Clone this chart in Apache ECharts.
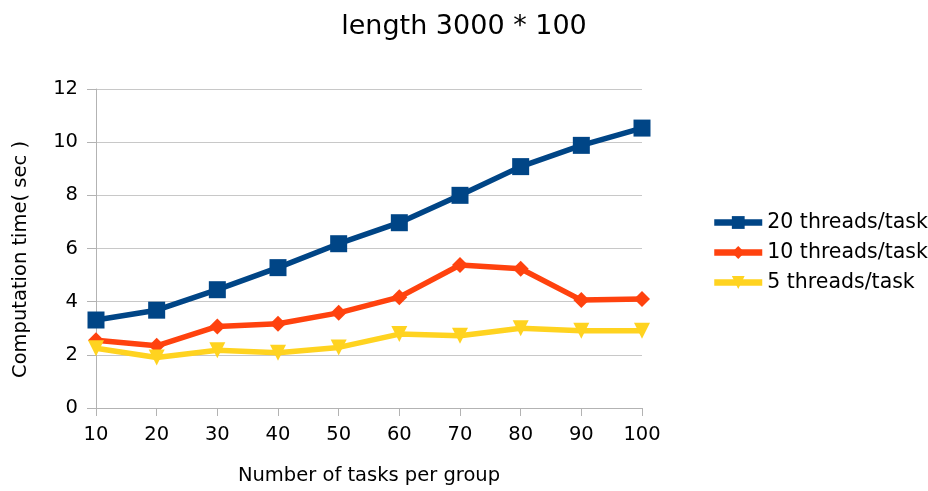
<!DOCTYPE html>
<html><head><meta charset="utf-8">
<script src="https://cdn.jsdelivr.net/npm/echarts@6/dist/echarts.min.js"></script>
<style>html,body{margin:0;padding:0;background:#fff;overflow:hidden}#c{width:928px;height:491px}</style>
</head><body><div id="c"></div>
<script>
var categories = ['10','20','30','40','50','60','70','80','90','100'];
var threads20 = [3.31, 3.68, 4.45, 5.28, 6.18, 6.97, 8.0, 9.08, 9.88, 10.53];
var threads10 = [2.55, 2.34, 3.07, 3.17, 3.58, 4.17, 5.38, 5.24, 4.06, 4.1];
var threads5 = [2.25, 1.9, 2.17, 2.08, 2.28, 2.78, 2.72, 3.0, 2.91, 2.91];
var seriesNames = ['20 threads/task', '10 threads/task', '5 threads/task'];
var colors = ['#004586', '#ff420e', '#ffd320'];
var font = 'DejaVu Sans';
var chart = echarts.init(document.getElementById('c'), null, {renderer: 'canvas', width: 928, height: 491});
function mk(name, data, color, symbol, size, rot) {
  return {name: name, type: 'line', data: data, symbol: symbol, symbolSize: size,
    symbolRotate: rot || 0, showAllSymbol: true, animation: false,
    lineStyle: {color: color, width: 5.5}, itemStyle: {color: color}};
}
chart.setOption({
  animation: false,
  title: {text: 'length 3000 * 100', left: 'center', top: 8,
    textStyle: {fontFamily: font, fontSize: 27, fontWeight: 'normal', color: '#000'}},
  grid: {left: 96, right: 286, top: 89, bottom: 78},
  legend: {orient: 'vertical', left: 706, top: 207, itemWidth: 48, itemHeight: 16, itemGap: 9,
    lineStyle: {width: 6.5},
    textStyle: {fontFamily: font, fontSize: 20.5, color: '#000'},
    data: seriesNames},
  xAxis: {type: 'category', data: categories, boundaryGap: false,
    name: 'Number of tasks per group', nameLocation: 'middle', nameGap: 58,
    nameTextStyle: {fontFamily: font, fontSize: 19.5, color: '#000'},
    axisLine: {lineStyle: {color: '#b3b3b3', width: 1}},
    axisTick: {show: true, length: 8, alignWithLabel: true, lineStyle: {color: '#b3b3b3'}},
    axisLabel: {fontFamily: font, fontSize: 19.5, color: '#000', margin: 17},
    splitLine: {show: false}},
  yAxis: {type: 'value', min: 0, max: 12, interval: 2,
    name: 'Computation time( sec )', nameLocation: 'middle', nameGap: 65,
    nameTextStyle: {fontFamily: font, fontSize: 19.5, color: '#000', padding: [0, 22, 0, 0]},
    axisLine: {show: true, lineStyle: {color: '#b3b3b3', width: 1}},
    axisTick: {show: true, length: 9, lineStyle: {color: '#b3b3b3'}},
    axisLabel: {fontFamily: font, fontSize: 19.5, color: '#000', margin: 18},
    splitLine: {lineStyle: {color: '#c8c8c8', width: 1}}},
  series: [
    mk(seriesNames[0], threads20, colors[0], 'rect', 17),
    mk(seriesNames[1], threads10, colors[1], 'diamond', 16),
    mk(seriesNames[2], threads5, colors[2], 'triangle', 16, 180)
  ]
});
</script></body></html>
